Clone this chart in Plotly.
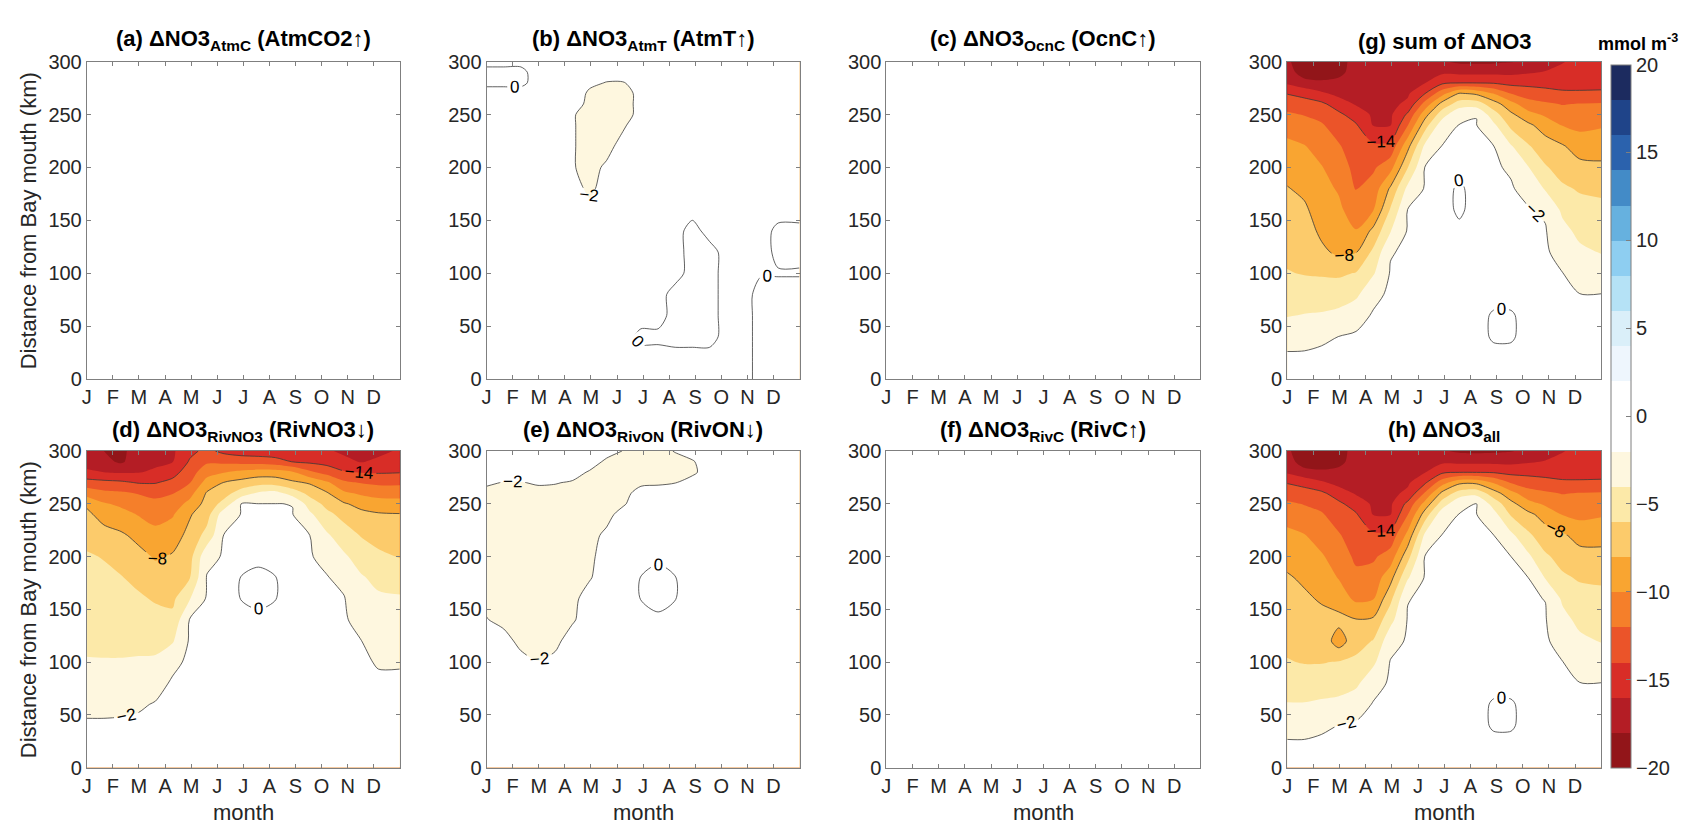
import numpy as np
import plotly.graph_objects as go

# ---------------- axes / labels ----------------
months = ["J", "F", "M", "A", "M", "J", "J", "A", "S", "O", "N", "D"]
month_pos = [0, 30.4, 60.8, 91.3, 121.7, 152.1, 182.5, 212.9, 243.3, 273.8, 304.2, 334.6]
dist_ticks = [0, 50, 100, 150, 200, 250, 300]
cbar_ticks = [-20, -15, -10, -5, 0, 5, 10, 15, 20]

# grid: day of year (columns) and distance from Bay mouth in km (rows)
day = [0, 20, 40, 60, 80, 100, 120, 140, 160, 180, 200, 220, 240, 260, 280, 300, 320, 340, 365]
dist_km = [0, 20, 40, 60, 80, 100, 120, 140, 160, 180, 200, 220, 240, 250, 260, 270, 280, 290, 300]

# ---------------- (d) dNO3_RivNO3 : one list per day, values along dist_km ----------------
d_cols = [
    [-1.0, -1.4, -1.8, -2.4, -3.2, -3.9, -4.3, -4.7, -5.1, -5.5, -5.8, -6.6, -7.6, -8.3, -10.8, -13.1, -15.7, -16.7, -17.5],
    [-1.0, -1.4, -1.8, -2.4, -3.1, -3.9, -4.4, -4.8, -5.2, -5.6, -6.1, -7.3, -8.7, -9.8, -11.5, -13.4, -16.0, -17.5, -18.0],
    [-1.0, -1.4, -1.8, -2.3, -3.1, -3.9, -4.4, -4.9, -5.4, -5.9, -6.7, -7.7, -9.3, -10.4, -11.7, -13.6, -16.2, -18.3, -18.1],
    [-1.0, -1.4, -1.7, -2.2, -3.0, -3.8, -4.5, -5.1, -5.7, -6.5, -7.4, -8.5, -10.1, -11.0, -12.1, -14.1, -16.1, -16.9, -17.8],
    [-1.0, -1.3, -1.6, -1.9, -2.6, -3.7, -4.6, -5.3, -6.2, -7.2, -8.2, -9.4, -10.7, -11.5, -12.5, -14.1, -15.7, -16.4, -17.0],
    [-1.0, -1.2, -1.4, -1.6, -1.8, -2.4, -4.2, -5.5, -6.4, -7.1, -7.8, -8.9, -10.2, -11.1, -12.1, -13.4, -14.8, -16.1, -16.3],
    [-1.0, -1.1, -1.3, -1.4, -1.5, -1.7, -1.8, -1.9, -4.1, -6.1, -6.7, -7.4, -8.2, -9.4, -10.7, -12.1, -12.9, -13.8, -14.5],
    [-1.0, -1.1, -1.2, -1.3, -1.4, -1.5, -1.6, -1.7, -1.8, -1.9, -2.5, -5.3, -6.8, -7.3, -7.8, -9.2, -10.8, -12.3, -13.5],
    [-1.0, -1.1, -1.2, -1.25, -1.3, -1.4, -1.5, -1.6, -1.7, -1.75, -1.85, -1.93, -2.8, -5.3, -6.8, -7.9, -10.1, -12.5, -14.5],
    [-1.0, -1.1, -1.15, -1.25, -1.3, -1.4, -1.5, -1.2, 0.1, 0.1, -1.2, -1.9, -1.96, -1.99, -5.0, -7.3, -9.5, -12.7, -15.0],
    [-1.0, -1.1, -1.15, -1.25, -1.3, -1.4, -1.45, -0.6, 0.6, 0.6, -0.6, -1.86, -1.94, -1.98, -3.7, -6.7, -9.1, -12.8, -15.2],
    [-1.0, -1.1, -1.15, -1.25, -1.3, -1.4, -1.45, -1.2, 0.1, 0.1, -1.2, -1.86, -1.94, -1.98, -3.3, -6.8, -9.1, -13.2, -15.3],
    [-1.0, -1.1, -1.15, -1.25, -1.3, -1.4, -1.5, -1.55, -1.65, -1.7, -1.8, -1.88, -1.96, -2.02, -4.8, -7.6, -9.8, -14.1, -15.5],
    [-1.0, -1.1, -1.2, -1.3, -1.35, -1.45, -1.55, -1.6, -1.7, -1.8, -1.9, -1.99, -3.6, -4.9, -6.6, -8.2, -11.6, -14.4, -15.6],
    [-1.0, -1.1, -1.2, -1.3, -1.4, -1.5, -1.6, -1.7, -1.8, -1.93, -2.4, -3.7, -5.5, -6.6, -7.8, -9.6, -12.8, -14.7, -15.8],
    [-1.0, -1.1, -1.2, -1.35, -1.45, -1.6, -1.7, -1.8, -1.92, -2.4, -3.7, -5.1, -6.6, -7.8, -9.6, -11.6, -13.8, -15.6, -16.3],
    [-1.0, -1.2, -1.3, -1.5, -1.65, -1.8, -1.98, -2.6, -3.2, -3.8, -4.9, -6.1, -7.5, -8.6, -10.3, -12.1, -14.1, -16.1, -16.6],
    [-1.0, -1.2, -1.4, -1.6, -1.8, -2.1, -2.6, -3.2, -3.7, -4.5, -5.6, -6.7, -7.8, -9.1, -10.7, -12.4, -14.2, -15.7, -16.4],
    [-1.0, -1.2, -1.4, -1.6, -1.8, -2.1, -2.7, -3.2, -3.8, -4.8, -6.1, -7.0, -7.9, -9.2, -10.8, -12.4, -14.1, -14.9, -15.8],
]

# ---------------- (g) sum of dNO3 ----------------
g_cols = [
    [-1.2, -1.7, -2.7, -4.1, -5.0, -5.9, -6.4, -6.9, -7.4, -7.9, -8.7, -9.5, -10.8, -11.7, -12.8, -14.1, -16.3, -17.1, -17.8],
    [-1.2, -1.7, -2.6, -3.9, -5.0, -6.1, -6.6, -7.1, -7.7, -8.4, -9.2, -9.9, -11.3, -12.1, -13.1, -14.7, -17.3, -19.0, -18.7],
    [-1.2, -1.6, -2.3, -3.8, -5.0, -6.2, -7.6, -8.4, -8.9, -9.4, -9.9, -10.8, -11.8, -12.6, -13.6, -15.7, -17.6, -19.2, -18.8],
    [-1.2, -1.6, -1.98, -3.5, -4.9, -6.3, -8.4, -9.0, -9.6, -10.2, -11.0, -11.8, -13.0, -13.6, -15.0, -16.6, -17.5, -18.5, -18.4],
    [-1.2, -1.5, -1.8, -2.6, -4.4, -5.9, -8.1, -9.9, -11.1, -12.1, -12.6, -13.2, -13.8, -14.9, -16.2, -16.5, -16.9, -17.2, -17.6],
    [-1.2, -1.4, -1.6, -1.85, -2.4, -4.2, -5.6, -7.5, -10.1, -11.2, -12.3, -13.6, -16.1, -16.3, -16.5, -16.7, -16.8, -17.0, -17.2],
    [-1.2, -1.35, -1.5, -1.6, -1.75, -1.87, -2.1, -4.1, -5.8, -7.7, -10.7, -13.4, -16.1, -16.3, -16.5, -16.7, -16.9, -17.0, -17.2],
    [-1.2, -1.3, -1.4, -1.5, -1.6, -1.7, -1.77, -1.87, -1.97, -3.5, -6.1, -8.6, -12.1, -13.7, -15.6, -16.3, -16.6, -17.0, -17.3],
    [-1.2, -1.3, -1.35, -1.43, -1.5, -1.58, -1.65, -1.73, -1.81, -1.88, -1.96, -3.6, -6.9, -8.8, -11.3, -14.1, -16.1, -16.8, -17.5],
    [-1.2, -1.27, -1.34, -1.4, -1.47, -1.54, -1.61, -1.67, -1.74, -1.81, -1.88, -1.95, -2.9, -4.9, -7.3, -10.8, -14.4, -16.4, -17.8],
    [-1.2, -1.26, -1.33, -1.39, -1.46, -1.52, -1.59, -1.0, 0.8, 0.8, -1.0, -1.91, -1.97, -2.3, -5.1, -7.9, -14.1, -16.5, -18.3],
    [-1.2, -1.26, -1.33, -1.39, -1.46, -1.52, -1.58, -1.65, -1.71, -1.78, -1.84, -1.9, -1.97, -2.02, -5.0, -8.4, -14.1, -16.5, -18.4],
    [-1.2, -1.27, 0.5, 0.5, -1.42, -1.55, -1.62, -1.69, -1.76, -1.83, -1.9, -1.97, -3.6, -5.2, -7.1, -10.1, -14.2, -16.5, -18.3],
    [-1.2, -1.28, 0.5, 0.5, -1.52, -1.6, -1.68, -1.76, -1.84, -1.92, -2.1, -3.8, -6.5, -7.6, -9.3, -12.1, -14.6, -16.5, -18.1],
    [-1.2, -1.29, -1.38, -1.47, -1.56, -1.65, -1.75, -1.84, -1.93, -2.3, -3.9, -5.8, -7.6, -9.3, -11.2, -12.9, -14.6, -16.2, -17.6],
    [-1.2, -1.3, -1.4, -1.5, -1.59, -1.69, -1.79, -1.89, -2.2, -4.2, -5.8, -7.1, -8.9, -10.3, -11.7, -13.3, -14.7, -15.9, -16.8],
    [-1.2, -1.35, -1.51, -1.66, -1.82, -1.97, -2.6, -3.4, -4.4, -5.7, -6.8, -7.8, -10.1, -11.1, -12.1, -13.7, -14.7, -15.5, -16.1],
    [-1.2, -1.39, -1.59, -1.78, -1.97, -2.8, -3.6, -4.5, -5.3, -6.2, -7.4, -8.9, -10.5, -11.2, -11.9, -13.8, -14.5, -15.0, -15.5],
    [-1.2, -1.39, -1.59, -1.78, -1.97, -3.0, -4.1, -4.8, -5.5, -6.4, -7.6, -8.9, -10.2, -11.0, -11.8, -13.8, -14.4, -14.8, -15.2],
]

# ---------------- (h) dNO3_all ----------------
h_cols = [
    [-1.2, -1.7, -2.6, -3.9, -4.9, -5.9, -6.4, -6.9, -7.4, -7.8, -8.6, -9.5, -10.8, -11.7, -12.8, -14.1, -16.3, -17.1, -17.8],
    [-1.2, -1.7, -2.6, -3.9, -5.0, -6.1, -6.6, -7.1, -7.7, -8.3, -9.1, -9.9, -11.3, -12.1, -13.1, -14.7, -17.3, -19.0, -18.7],
    [-1.2, -1.6, -2.3, -3.7, -4.9, -6.1, -6.7, -7.45, -8.2, -9.0, -9.8, -10.8, -11.8, -12.6, -13.6, -15.7, -17.6, -19.2, -18.8],
    [-1.2, -1.6, -1.98, -3.5, -4.8, -5.9, -9.0, -7.4, -9.0, -10.1, -10.9, -11.8, -13.0, -13.6, -15.0, -16.6, -17.5, -18.5, -18.4],
    [-1.2, -1.5, -1.8, -2.8, -4.4, -5.6, -6.75, -7.9, -10.4, -11.5, -12.4, -13.1, -13.8, -14.9, -16.2, -16.5, -16.9, -17.2, -17.6],
    [-1.2, -1.4, -1.6, -1.9, -2.6, -4.4, -5.9, -7.7, -10.1, -11.2, -12.3, -13.6, -16.1, -16.3, -16.5, -16.7, -16.8, -17.0, -17.2],
    [-1.2, -1.35, -1.5, -1.6, -1.8, -1.9, -2.7, -4.6, -6.5, -8.7, -11.1, -13.3, -16.1, -16.3, -16.5, -16.7, -16.9, -17.0, -17.2],
    [-1.2, -1.3, -1.4, -1.5, -1.6, -1.7, -1.8, -1.9, -2.05, -4.2, -6.7, -9.4, -12.1, -13.5, -15.6, -16.3, -16.6, -17.0, -17.3],
    [-1.2, -1.3, -1.35, -1.43, -1.5, -1.58, -1.65, -1.73, -1.81, -1.88, -1.96, -3.6, -7.1, -9.3, -11.8, -14.3, -16.1, -16.8, -17.5],
    [-1.2, -1.27, -1.34, -1.4, -1.47, -1.54, -1.61, -1.67, -1.74, -1.81, -1.88, -1.95, -2.8, -5.1, -7.5, -10.8, -14.4, -16.4, -17.8],
    [-1.2, -1.26, -1.33, -1.39, -1.46, -1.52, -1.59, -1.65, -1.71, -1.78, -1.84, -1.91, -1.97, -2.3, -5.1, -8.4, -14.1, -16.5, -18.3],
    [-1.2, -1.26, -1.33, -1.39, -1.46, -1.52, -1.58, -1.65, -1.71, -1.78, -1.84, -1.9, -1.97, -1.98, -4.6, -8.4, -14.1, -16.5, -18.4],
    [-1.2, -1.27, 0.5, 0.5, -1.42, -1.55, -1.62, -1.69, -1.76, -1.83, -1.9, -1.97, -3.3, -4.8, -7.1, -10.1, -14.2, -16.5, -18.3],
    [-1.2, -1.28, 0.5, 0.5, -1.52, -1.6, -1.68, -1.75, -1.83, -1.91, -1.99, -3.5, -6.2, -7.4, -9.3, -12.1, -14.6, -16.5, -18.1],
    [-1.2, -1.29, -1.37, -1.46, -1.55, -1.64, -1.72, -1.81, -1.9, -1.99, -3.6, -5.6, -7.5, -9.3, -11.2, -12.9, -14.6, -16.2, -17.6],
    [-1.2, -1.3, -1.4, -1.5, -1.6, -1.7, -1.8, -1.9, -2.02, -4.1, -5.7, -7.1, -8.8, -10.3, -11.7, -13.3, -14.7, -15.9, -16.8],
    [-1.2, -1.35, -1.51, -1.66, -1.82, -1.97, -2.6, -3.4, -4.3, -5.7, -6.7, -7.7, -10.1, -11.1, -12.1, -13.7, -14.7, -15.5, -16.1],
    [-1.2, -1.39, -1.59, -1.78, -1.97, -2.8, -3.6, -4.5, -5.3, -6.2, -7.3, -8.7, -10.5, -11.2, -11.9, -13.8, -14.5, -15.0, -15.5],
    [-1.2, -1.4, -1.59, -1.79, -1.98, -3.0, -4.1, -4.7, -5.5, -6.3, -7.4, -8.7, -10.2, -11.0, -11.8, -13.8, -14.4, -14.8, -15.2],
]

# ---------------- (b) dNO3_AtmT ----------------
b_cols = [
    [-0.5, -0.5, -0.5, -0.5, -0.5, -0.5, -0.5, -0.5, -0.5, -0.5, -0.5, -0.5, -0.5, -0.5, -0.5, -0.5, 0.3, 0.3, -0.3],
    [-0.5, -0.5, -0.5, -0.5, -0.5, -0.5, -0.5, -0.5, -0.5, -0.5, -0.5, -0.5, -0.5, -0.5, -0.5, -0.5, 0.3, 0.3, -0.3],
    [-0.5, -0.5, -0.5, -0.5, -0.5, -0.5, -0.5, -0.5, -0.5, -0.5, -0.5, -0.5, -0.5, -0.5, -0.5, -0.5, 0.3, 0.3, -0.3],
    [-0.5, -0.5, -0.5, -0.5, -0.5, -0.5, -0.5, -0.5, -0.5, -0.5, -0.5, -0.5, -0.5, -0.5, -0.5, -0.5, -0.5, -0.5, -0.5],
    [-0.5, -0.5, -0.5, -0.5, -0.5, -0.5, -0.5, -0.5, -0.5, -0.5, -0.5, -0.5, -0.5, -0.5, -0.5, -0.5, -0.5, -0.5, -0.5],
    [-0.5, -0.5, -0.5, -0.5, -0.5, -0.5, -0.5, -0.5, -0.5, -0.5, -1.8, -1.8, -1.8, -1.8, -0.5, -0.5, -0.5, -0.5, -0.5],
    [-0.5, -0.5, -0.5, -0.5, -0.5, -0.5, -0.5, -0.5, -1.0, -2.8, -2.8, -2.8, -2.8, -2.8, -2.8, -2.4, -1.5, -0.5, -0.5],
    [-0.5, -0.5, -0.5, -0.5, -0.5, -0.5, -0.5, -0.5, -0.5, -0.5, -1.6, -2.8, -2.8, -2.8, -2.8, -2.8, -2.1, -1.0, -0.5],
    [-0.5, -0.5, -0.5, -0.5, -0.5, -0.5, -0.5, -0.5, -0.5, -0.5, -0.5, -1.0, -2.3, -2.6, -2.6, -2.6, -2.1, -1.0, -0.5],
    [-0.5, -0.5, 0.3, -0.5, -0.5, -0.5, -0.5, -0.5, -0.5, -0.5, -0.5, -0.5, -0.5, -1.5, -1.5, -1.5, -0.5, -0.5, -0.5],
    [-0.5, -0.5, 0.3, -0.5, -0.5, -0.5, -0.5, -0.5, -0.5, -0.5, -0.5, -0.5, -0.5, -0.5, -0.5, -0.5, -0.5, -0.5, -0.5],
    [-0.5, -0.5, 0.5, 0.5, 0.5, -0.5, -0.5, -0.5, -0.5, -0.5, -0.5, -0.5, -0.5, -0.5, -0.5, -0.5, -0.5, -0.5, -0.5],
    [-0.5, -0.5, 0.5, 0.5, 0.5, 0.5, 0.5, 0.5, -0.5, -0.5, -0.5, -0.5, -0.5, -0.5, -0.5, -0.5, -0.5, -0.5, -0.5],
    [-0.5, -0.5, 0.5, 0.5, 0.5, 0.5, 0.5, -0.5, -0.5, -0.5, -0.5, -0.5, -0.5, -0.5, -0.5, -0.5, -0.5, -0.5, -0.5],
    [-0.5, -0.5, -0.5, -0.5, -0.5, -0.5, -0.5, -0.5, -0.5, -0.5, -0.5, -0.5, -0.5, -0.5, -0.5, -0.5, -0.5, -0.5, -0.5],
    [-0.5, -0.5, -0.5, -0.5, -0.5, -0.5, -0.5, -0.5, -0.5, -0.5, -0.5, -0.5, -0.5, -0.5, -0.5, -0.5, -0.5, -0.5, -0.5],
    [0.5, 0.5, 0.5, 0.5, 0.5, -0.1, -0.5, -0.5, -0.5, -0.5, -0.5, -0.5, -0.5, -0.5, -0.5, -0.5, -0.5, -0.5, -0.5],
    [0.5, 0.5, 0.5, 0.5, 0.5, -0.1, 0.3, 0.3, -0.5, -0.5, -0.5, -0.5, -0.5, -0.5, -0.5, -0.5, -0.5, -0.5, -0.5],
    [0.5, 0.5, 0.5, 0.5, 0.5, -0.1, 0.3, 0.3, -0.5, -0.5, -0.5, -0.5, -0.5, -0.5, -0.5, -0.5, -0.5, -0.5, -0.5],
]

# ---------------- (e) dNO3_RivON ----------------
e_cols = [
    [-0.8, -0.8, -0.8, -0.8, -0.8, -0.8, -0.8, -1.9, -2.6, -2.6, -2.6, -2.6, -2.6, -2.6, -2.6, -1.7, -0.8, -0.8, -0.8],
    [-0.8, -0.8, -0.8, -0.8, -0.8, -0.8, -1.2, -2.6, -2.6, -2.6, -2.6, -2.6, -2.6, -2.6, -2.6, -2.1, -1.0, -0.8, -0.8],
    [-0.8, -0.8, -0.8, -0.8, -0.8, -1.3, -2.6, -2.6, -2.6, -2.6, -2.6, -2.6, -2.6, -2.6, -2.6, -2.1, -1.0, -0.8, -0.8],
    [-0.8, -0.8, -0.8, -0.8, -0.8, -1.95, -2.6, -2.6, -2.6, -2.6, -2.6, -2.6, -2.6, -2.6, -2.6, -1.8, -0.8, -0.8, -0.8],
    [-0.8, -0.8, -0.8, -0.8, -0.8, -1.4, -2.6, -2.6, -2.6, -2.6, -2.6, -2.6, -2.6, -2.6, -2.6, -1.9, -0.8, -0.8, -0.8],
    [-0.8, -0.8, -0.8, -0.8, -0.8, -0.8, -0.9, -2.3, -2.6, -2.6, -2.6, -2.6, -2.6, -2.6, -2.6, -2.2, -1.2, -0.8, -0.8],
    [-0.8, -0.8, -0.8, -0.8, -0.8, -0.8, -0.8, -0.8, -1.0, -2.2, -2.6, -2.6, -2.6, -2.6, -2.6, -2.6, -2.2, -1.0, -0.8],
    [-0.8, -0.8, -0.8, -0.8, -0.8, -0.8, -0.8, -0.8, -0.8, -0.8, -0.8, -1.6, -2.6, -2.6, -2.6, -2.6, -2.6, -2.4, -1.2],
    [-0.8, -0.8, -0.8, -0.8, -0.8, -0.8, -0.8, -0.8, -0.8, -0.8, -0.8, -0.8, -1.2, -2.2, -2.6, -2.6, -2.6, -2.6, -2.1],
    [-0.8, -0.8, -0.8, -0.8, -0.8, -0.8, -0.8, -0.8, 0.05, 0.05, -0.8, -0.8, -0.8, -0.8, -1.2, -2.4, -2.6, -2.6, -2.6],
    [-0.8, -0.8, -0.8, -0.8, -0.8, -0.8, -0.8, -0.3, 0.5, 0.5, -0.3, -0.8, -0.8, -0.8, -1.0, -2.3, -2.6, -2.6, -2.6],
    [-0.8, -0.8, -0.8, -0.8, -0.8, -0.8, -0.8, -0.8, 0.05, 0.05, -0.8, -0.8, -0.8, -0.8, -0.8, -2.05, -2.6, -2.6, -1.9],
    [-0.8, -0.8, -0.8, -0.8, -0.8, -0.8, -0.8, -0.8, -0.8, -0.8, -0.8, -0.8, -0.8, -0.8, -0.8, -1.0, -2.5, -2.2, -1.0],
    [-0.8, -0.8, -0.8, -0.8, -0.8, -0.8, -0.8, -0.8, -0.8, -0.8, -0.8, -0.8, -0.8, -0.8, -0.8, -0.8, -0.8, -0.8, -0.8],
    [-0.8, -0.8, -0.8, -0.8, -0.8, -0.8, -0.8, -0.8, -0.8, -0.8, -0.8, -0.8, -0.8, -0.8, -0.8, -0.8, -0.8, -0.8, -0.8],
    [-0.8, -0.8, -0.8, -0.8, -0.8, -0.8, -0.8, -0.8, -0.8, -0.8, -0.8, -0.8, -0.8, -0.8, -0.8, -0.8, -0.8, -0.8, -0.8],
    [-0.8, -0.8, -0.8, -0.8, -0.8, -0.8, -0.8, -0.8, -0.8, -0.8, -0.8, -0.8, -0.8, -0.8, -0.8, -0.8, -0.8, -0.8, -0.8],
    [-0.8, -0.8, -0.8, -0.8, -0.8, -0.8, -0.8, -0.8, -0.8, -0.8, -0.8, -0.8, -0.8, -0.8, -0.8, -0.8, -0.8, -0.8, -0.8],
    [-0.8, -0.8, -0.8, -0.8, -0.8, -0.8, -0.8, -0.8, -0.8, -0.8, -0.8, -0.8, -0.8, -0.8, -0.8, -0.8, -0.8, -0.8, -0.8],
]

# colour bands from -20 to 20 (step 2)
band_colors = ["#921519", "#B41D25", "#D82D27", "#EB5429", "#F57F2A", "#F9A531", "#FCCB6B",
               "#FCE9A8", "#FEF7DF", "#FFFFFF", "#FFFFFF", "#EEF6FD", "#DAEFF9", "#B5E2F6",
               "#8ECEF1", "#66B1DF", "#438BC7", "#2B62AD", "#1F4489", "#1C2B5F"]

titles = {
    "a": "<b>(a) ΔNO3<sub>AtmC</sub> (AtmCO2↑)</b>",
    "b": "<b>(b) ΔNO3<sub>AtmT</sub> (AtmT↑)</b>",
    "c": "<b>(c) ΔNO3<sub>OcnC</sub> (OcnC↑)</b>",
    "g": "<b>(g) sum of ΔNO3</b>",
    "d": "<b>(d) ΔNO3<sub>RivNO3</sub> (RivNO3↓)</b>",
    "e": "<b>(e) ΔNO3<sub>RivON</sub> (RivON↓)</b>",
    "f": "<b>(f) ΔNO3<sub>RivC</sub> (RivC↑)</b>",
    "h": "<b>(h) ΔNO3<sub>all</sub></b>",
}

# ---------------- build figure ----------------
W, H = 1682, 835
FONT = "Liberation Sans, Arial, Helvetica, sans-serif"
TXT = "#262626"
AXC = "#7f7f7f"

colorscale = []
for i, c in enumerate(band_colors):
    colorscale.append([i / 20, c])
    colorscale.append([(i + 1) / 20, c])

col_px = [(82, 396), (483, 797), (884, 1199), (1286, 1601)]
row_px = [(52, 378), (452, 777)]
title_bottom = [46, 448]
order = [["a", "b", "c", "g"], ["d", "e", "f", "h"]]
fields = {"d": d_cols, "g": g_cols, "h": h_cols, "b": b_cols, "e": e_cols}

fig = go.Figure()
layout = dict(width=W, height=H, margin=dict(l=0, r=0, t=0, b=0), autosize=False,
              paper_bgcolor="white", plot_bgcolor="white", showlegend=False,
              font=dict(family=FONT, color=TXT))
annotations = []
n = 0
for r, row in enumerate(order):
    for c, key in enumerate(row):
        n += 1
        xs = "" if n == 1 else str(n)
        x0, x1 = col_px[c]
        y0, y1 = row_px[r]
        layout["xaxis" + xs] = dict(
            domain=[x0 / W, x1 / W], range=[0, 365], anchor="y" + xs,
            tickmode="array", tickvals=month_pos, ticktext=months,
            ticks="inside", ticklen=4, tickcolor=AXC, showline=True, linecolor=AXC,
            linewidth=1, mirror="ticks", showgrid=False, zeroline=False,
            tickfont=dict(size=20, color=TXT, family=FONT))
        layout["yaxis" + xs] = dict(
            domain=[1 - y1 / H, 1 - y0 / H], range=[0, 300], anchor="x" + xs,
            tickmode="array", tickvals=dist_ticks,
            ticks="inside", ticklen=4, tickcolor=AXC, showline=True, linecolor=AXC,
            linewidth=1, mirror="ticks", showgrid=False, zeroline=False,
            tickfont=dict(size=20, color=TXT, family=FONT))
        # title
        annotations.append(dict(text=titles[key], x=(x0 + x1) / 2 / W, y=1 - title_bottom[r] / H,
                                xref="paper", yref="paper", xanchor="center", yanchor="bottom",
                                showarrow=False, font=dict(size=22, color="black", family=FONT)))
        if r == 1:
            annotations.append(dict(text="month", x=(x0 + x1) / 2 / W, y=1 - 823 / H,
                                    xref="paper", yref="paper", xanchor="center", yanchor="middle",
                                    showarrow=False, font=dict(size=22, color=TXT, family=FONT)))
        if c == 0:
            annotations.append(dict(text="Distance from Bay mouth (km)", x=23 / W,
                                    y=1 - (y0 + y1) / 2 / H, xref="paper", yref="paper",
                                    xanchor="center", yanchor="middle", textangle=-90,
                                    showarrow=False, font=dict(size=22, color=TXT, family=FONT)))
        if key not in fields:
            # empty panel: field stays inside the white (-2..2) band, nothing drawn
            fig.add_trace(go.Scatter(x=[], y=[], xaxis="x" + xs, yaxis="y" + xs,
                                     mode="lines", hoverinfo="skip", showlegend=False))
            continue
        z = np.array(fields[key]).T
        show_cb = key == "g"
        fig.add_trace(go.Contour(
            x=day, y=dist_km, z=z, xaxis="x" + xs, yaxis="y" + xs,
            zmin=-20, zmax=20, colorscale=colorscale, autocontour=False,
            contours=dict(start=-20, end=20, size=2, coloring="fill", showlines=False),
            line=dict(width=0, smoothing=0.8), hoverinfo="skip", showscale=show_cb,
            colorbar=dict(x=1611 / W, xanchor="left", xpad=0, ypad=0,
                          y=1 - 416 / H, yanchor="middle", len=722 / H, lenmode="fraction",
                          thickness=20, thicknessmode="pixels", tickmode="array",
                          tickvals=cbar_ticks, ticks="inside", ticklen=5, tickcolor=AXC,
                          tickfont=dict(size=20, color=TXT, family=FONT),
                          outlinewidth=1, outlinecolor=AXC)))
        if key in ("b", "e"):
            line_sets = [(-2, 0, 2)]
        else:
            line_sets = [(-14, -2, 6), (0, 0.5, 1)]
        for (s, e_, sz) in line_sets:
            fig.add_trace(go.Contour(
                x=day, y=dist_km, z=z, xaxis="x" + xs, yaxis="y" + xs,
                autocontour=False, showscale=False, hoverinfo="skip",
                contours=dict(start=s, end=e_, size=sz, coloring="none", showlabels=True,
                              labelfont=dict(size=17, color="black", family=FONT)),
                line=dict(color="#3a3a3a", width=0.8, smoothing=0.8)))

annotations.append(dict(text="<b>mmol m<sup>-3</sup></b>", x=1638 / W, y=1 - 32 / H,
                        xref="paper", yref="paper", xanchor="center", yanchor="middle",
                        showarrow=False, font=dict(size=18, color="black", family=FONT)))
layout["annotations"] = annotations
fig.update_layout(**layout)
fig.write_html("out.html")
